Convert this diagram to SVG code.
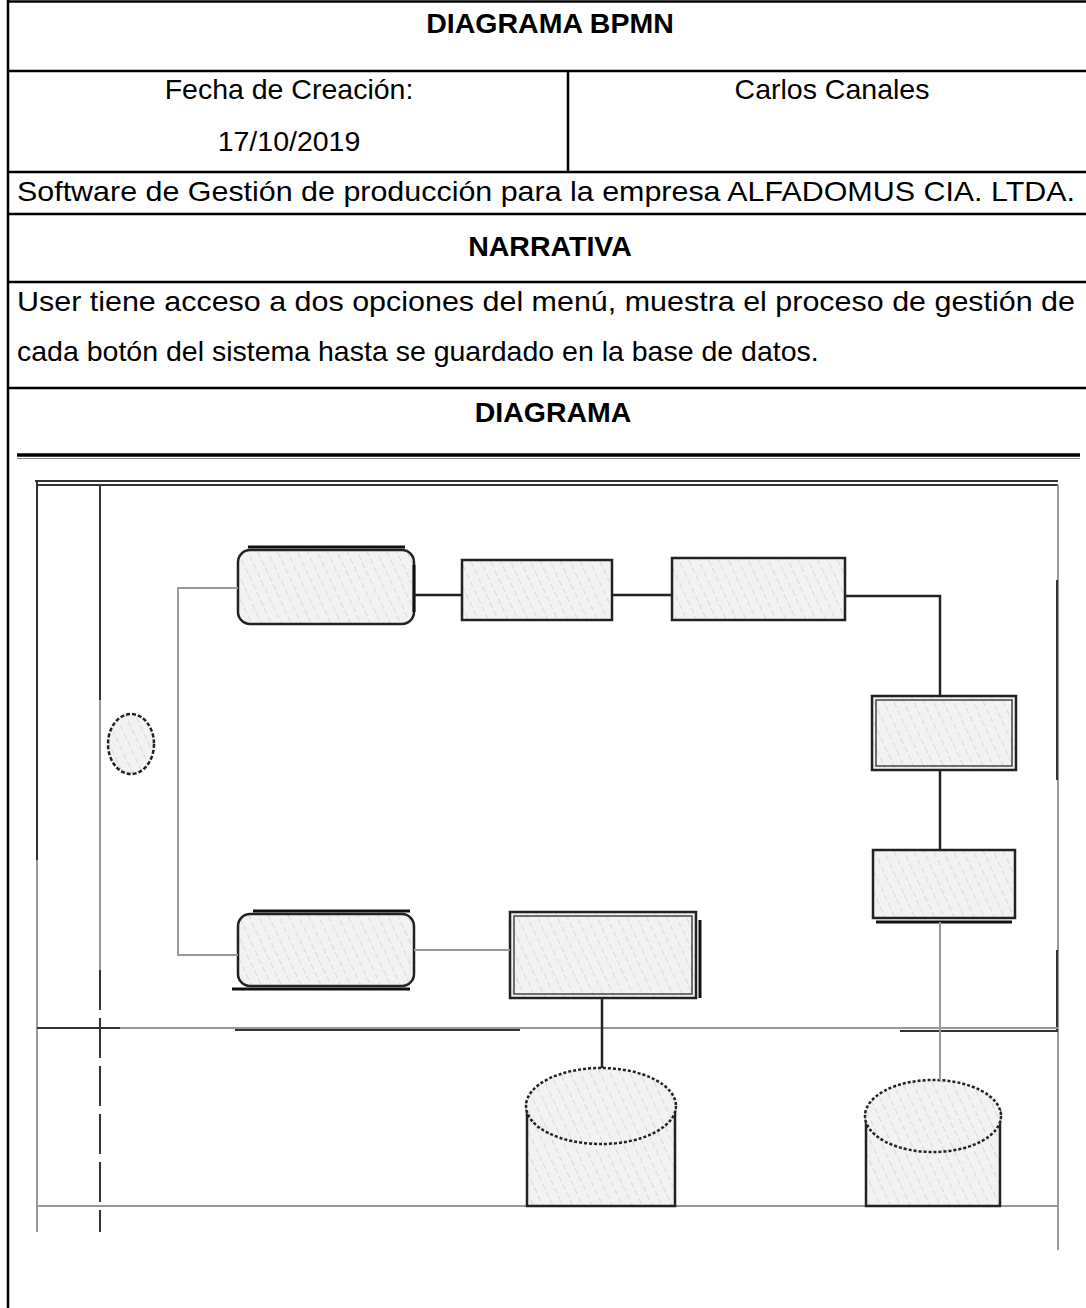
<svg xmlns="http://www.w3.org/2000/svg" width="1086" height="1308" viewBox="0 0 1086 1308">
<defs>
<pattern id="hatch" patternUnits="userSpaceOnUse" width="9" height="9" patternTransform="rotate(-25)">
<rect width="9" height="9" fill="#f2f2f2"/>
<line x1="0" y1="0" x2="0" y2="9" stroke="#c8c8c8" stroke-width="1.2" stroke-dasharray="3 3"/>
</pattern>
<style>
.tl{stroke:#000;stroke-width:2.5;fill:none}
.h{font-family:"Liberation Sans",Arial,sans-serif;font-weight:bold;font-size:28.5px;fill:#000;text-anchor:middle}
.t{font-family:"Liberation Sans",Arial,sans-serif;font-size:28.5px;fill:#000}
.c{text-anchor:middle}
.pool{stroke:#333;stroke-width:2;fill:none}
.poolg{stroke:#999;stroke-width:2;fill:none}
.task{fill:url(#hatch);stroke:#222;stroke-width:2.5}
.task2{fill:none;stroke:#444;stroke-width:1.5}
.heavy{stroke:#111;stroke-width:3}
.cd{stroke:#222;stroke-width:2.5;fill:none}
.cg{stroke:#999;stroke-width:2;fill:none}
</style>
</defs>
<rect width="1086" height="1308" fill="#fff"/>
<g id="table">
<line class="tl" x1="8" y1="1.5" x2="1086" y2="1.5"/>
<line class="tl" x1="8" y1="0" x2="8" y2="1308"/>
<line class="tl" x1="8" y1="71" x2="1086" y2="71"/>
<line class="tl" x1="568" y1="71" x2="568" y2="172" stroke-width="2"/>
<line class="tl" x1="8" y1="172" x2="1086" y2="172"/>
<line class="tl" x1="8" y1="214" x2="1086" y2="214"/>
<line class="tl" x1="8" y1="282" x2="1086" y2="282"/>
<line class="tl" x1="8" y1="388" x2="1086" y2="388"/>
<line x1="17" y1="455" x2="1080" y2="455" stroke="#000" stroke-width="3.5"/>
<line x1="17" y1="458.5" x2="1080" y2="458.5" stroke="#888" stroke-width="1"/>
<text class="h" x="550" y="33">DIAGRAMA BPMN</text>
<text class="t c" x="289" y="99">Fecha de Creación:</text>
<text class="t c" x="289" y="151">17/10/2019</text>
<text class="t c" x="832" y="99">Carlos Canales</text>
<text class="t" x="17" y="201" textLength="1058" lengthAdjust="spacingAndGlyphs">Software de Gestión de producción para la empresa ALFADOMUS CIA. LTDA.</text>
<text class="h" x="550" y="256">NARRATIVA</text>
<text class="t" x="17" y="311" textLength="1058" lengthAdjust="spacingAndGlyphs">User tiene acceso a dos opciones del menú, muestra el proceso de gestión de</text>
<text class="t" x="17" y="361">cada botón del sistema hasta se guardado en la base de datos.</text>
<text class="h" x="553" y="422">DIAGRAMA</text>
</g>
<g id="pool">
<line class="pool" x1="35" y1="481" x2="1058" y2="481" stroke-width="2.5"/>
<line class="pool" x1="37" y1="485" x2="1058" y2="485" stroke-width="1.5"/>
<line class="pool" x1="37" y1="481" x2="37" y2="860" stroke-width="2.5"/>
<line class="poolg" x1="37" y1="860" x2="37" y2="1232"/>
<line class="pool" x1="100" y1="485" x2="100" y2="700" stroke-width="3"/>
<line class="poolg" x1="100" y1="700" x2="100" y2="970" stroke-width="1.5"/>
<line class="pool" x1="100" y1="970" x2="100" y2="1232" stroke-width="2.5" stroke-dasharray="40 8"/>
<line class="poolg" x1="1058" y1="485" x2="1058" y2="1250" stroke-width="1.5"/>
<line class="pool" x1="1057" y1="580" x2="1057" y2="780" stroke-width="2.5"/>
<line class="pool" x1="1057" y1="950" x2="1057" y2="1030" stroke-width="2.5"/>
<line class="poolg" x1="37" y1="1028" x2="1058" y2="1028"/>
<line class="pool" x1="37" y1="1028" x2="120" y2="1028" stroke-width="3"/>
<line class="pool" x1="235" y1="1030" x2="520" y2="1030" stroke-width="3"/>
<line class="pool" x1="900" y1="1031" x2="1058" y2="1031" stroke-width="3"/>
<line class="poolg" x1="37" y1="1206" x2="1058" y2="1206"/>
</g>
<g id="start">
<ellipse cx="131" cy="744" rx="23" ry="30" fill="url(#hatch)" stroke="#222" stroke-width="2.5" stroke-dasharray="4 2"/>
</g>
<g id="task1"><rect class="task" x="238" y="550" width="176" height="74" rx="12"/><line class="heavy" x1="248" y1="547" x2="405" y2="547"/><line class="heavy" x1="414" y1="565" x2="414" y2="612"/></g>
<g id="task2"><rect class="task" x="462" y="560" width="150" height="60"/></g>
<g id="task3"><rect class="task" x="672" y="558" width="173" height="62"/></g>
<g id="task4"><rect class="task" x="872" y="696" width="144" height="74"/><rect class="task2" x="876" y="700" width="136" height="66"/></g>
<g id="task5"><rect class="task" x="873" y="850" width="142" height="68"/><line class="heavy" x1="876" y1="922" x2="1012" y2="922"/></g>
<g id="task6"><rect class="task" x="238" y="914" width="176" height="72" rx="12"/><line class="heavy" x1="253" y1="911" x2="410" y2="911"/><line class="heavy" x1="232" y1="989" x2="410" y2="989" stroke-width="2"/></g>
<g id="task7"><rect class="task" x="510" y="912" width="186" height="86"/><rect class="task2" x="514" y="916" width="178" height="78"/><line class="heavy" x1="700" y1="920" x2="700" y2="998"/></g>
<g id="db1">
<path class="task" d="M527,1102 L527,1206 L675,1206 L675,1102"/>
<ellipse cx="601" cy="1106" rx="75" ry="38" fill="url(#hatch)" stroke="#222" stroke-width="2.5" stroke-dasharray="3 2"/>
</g>
<g id="db2">
<path class="task" d="M866,1110 L866,1206 L1000,1206 L1000,1110"/>
<ellipse cx="933" cy="1116" rx="68" ry="36" fill="url(#hatch)" stroke="#222" stroke-width="2.5" stroke-dasharray="3 2"/>
</g>
<g id="connectors">
<polyline class="cg" points="238,588 178,588 178,955 238,955" stroke-width="1.5"/>
<line class="cd" x1="414" y1="595" x2="462" y2="595"/>
<line class="cd" x1="612" y1="595" x2="672" y2="595"/>
<polyline class="cd" points="845,596 940,596 940,696" stroke-width="2"/>
<line class="cd" x1="940" y1="770" x2="940" y2="850" stroke-width="2"/>
<line class="cg" x1="940" y1="922" x2="940" y2="1080"/>
<line class="cg" x1="414" y1="950" x2="510" y2="950" stroke-width="1.5"/>
<line class="cd" x1="602" y1="998" x2="602" y2="1068"/>
</g>
</svg>
